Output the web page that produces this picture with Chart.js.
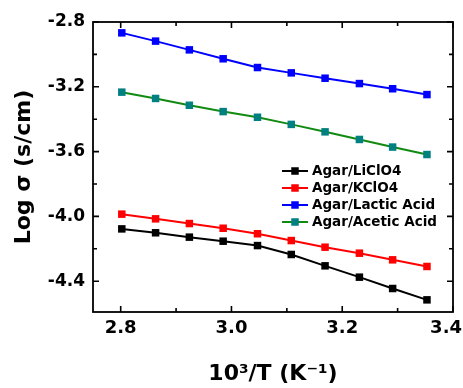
<!DOCTYPE html>
<html>
<head>
<meta charset="utf-8">
<script src="https://cdn.jsdelivr.net/npm/chart.js@4/dist/chart.umd.min.js"></script>
<style>
html,body{margin:0;padding:0;background:#fff;}
#wrap{width:463px;height:388px;position:relative;}
</style>
</head>
<body>
<div id="wrap"><canvas id="c" width="463" height="388"></canvas></div>
<script>
const xValues = [2.802, 2.863, 2.924, 2.985, 3.047, 3.108, 3.169, 3.231, 3.291, 3.353];
const seriesNames = ["Agar/LiClO4", "Agar/KClO4", "Agar/Lactic Acid", "Agar/Acetic Acid"];
const liClO4 = [-4.077, -4.101, -4.128, -4.153, -4.180, -4.235, -4.305, -4.375, -4.445, -4.515];
const kClO4 = [-3.986, -4.015, -4.044, -4.073, -4.107, -4.149, -4.190, -4.227, -4.268, -4.309];
const lacticAcid = [-2.867, -2.918, -2.972, -3.027, -3.081, -3.114, -3.147, -3.180, -3.212, -3.248];
const aceticAcid = [-3.233, -3.272, -3.314, -3.353, -3.388, -3.432, -3.478, -3.525, -3.572, -3.618];
const xTicks = [2.8, 3.0, 3.2, 3.4];
const xMinorTicks = [2.9, 3.1, 3.3];
const yTicks = [-2.8, -3.2, -3.6, -4.0, -4.4];
const yMinorTicks = [-3.0, -3.4, -3.8, -4.2];

const lineColors = ["#000000", "#ff0000", "#0000ff", "#118a11"];
const markerColors = ["#000000", "#ff0000", "#0000ff", "#008080"];
const allSeries = [liClO4, kClO4, lacticAcid, aceticAcid];
const FONT = "'DejaVu Sans', 'Liberation Sans', Arial, sans-serif";

const datasets = allSeries.map((s, i) => ({
  label: seriesNames[i],
  data: s.map((v, j) => ({x: xValues[j], y: v})),
  borderColor: lineColors[i],
  backgroundColor: markerColors[i],
  pointBackgroundColor: markerColors[i],
  pointBorderColor: markerColors[i],
  pointBorderWidth: 0,
  pointStyle: 'rect',
  pointRadius: 5.3,
  borderWidth: 2,
  tension: 0
}));

const framePlugin = {
  id: 'frame',
  afterDatasetsDraw(chart) {
    const {ctx, chartArea: a, scales: {x, y}} = chart;
    ctx.save();
    ctx.strokeStyle = '#000';
    ctx.lineWidth = 1.6;
    ctx.beginPath();
    const tick = (px, py, dx, dy) => { ctx.moveTo(px, py); ctx.lineTo(px + dx, py + dy); };
    xTicks.forEach(v => { const p = x.getPixelForValue(v); tick(p, a.bottom, 0, -6); tick(p, a.top, 0, 6); });
    xMinorTicks.forEach(v => { const p = x.getPixelForValue(v); tick(p, a.bottom, 0, -4); tick(p, a.top, 0, 4); });
    yTicks.forEach(v => { const p = y.getPixelForValue(v); tick(a.left, p, 6, 0); tick(a.right, p, -6, 0); });
    yMinorTicks.forEach(v => { const p = y.getPixelForValue(v); tick(a.left, p, 4, 0); tick(a.right, p, -4, 0); });
    ctx.stroke();
    ctx.lineWidth = 1.8;
    ctx.strokeRect(a.left, a.top, a.right - a.left, a.bottom - a.top);
    // x tick labels (kept inside the canvas)
    ctx.fillStyle = '#000';
    ctx.font = "bold 18px " + FONT;
    ctx.textBaseline = 'middle';
    ctx.textAlign = 'center';
    xTicks.forEach(v => {
      const label = v.toFixed(1);
      const w = ctx.measureText(label).width;
      let p = x.getPixelForValue(v);
      const maxRight = chart.width - 1;
      if (p + w / 2 > maxRight) p = maxRight - w / 2;
      ctx.fillText(label, p, a.bottom + 16);
    });
    // legend
    const lx0 = 282, lx1 = 308, tx = 312;
    const rows = [171, 188, 205, 222];
    ctx.font = "bold 13.5px " + FONT;
    ctx.textAlign = 'left';
    seriesNames.forEach((name, i) => {
      const ry = rows[i];
      ctx.strokeStyle = lineColors[i];
      ctx.lineWidth = 2;
      ctx.beginPath(); ctx.moveTo(lx0, ry); ctx.lineTo(lx1, ry); ctx.stroke();
      ctx.fillStyle = markerColors[i];
      ctx.fillRect((lx0 + lx1) / 2 - 3.75, ry - 3.75, 7.5, 7.5);
      ctx.fillStyle = '#000';
      ctx.fillText(name, tx, ry + 0.5);
    });
    ctx.restore();
  }
};

new Chart(document.getElementById('c'), {
  type: 'line',
  data: {datasets},
  options: {
    responsive: false,
    animation: false,
    layout: {padding: {top: 22, right: 10, left: 0, bottom: 0}},
    plugins: {legend: {display: false}, tooltip: {enabled: false}},
    scales: {
      x: {
        type: 'linear',
        min: 2.75, max: 3.4,
        afterBuildTicks: s => { s.ticks = xTicks.map(v => ({value: v})); },
        afterFit: s => { s.height = 76; s.paddingLeft = 0; s.paddingRight = 0; },
        grid: {display: false, drawTicks: false},
        border: {display: false},
        ticks: {display: false},
        title: {
          display: true,
          text: '10³/T (K⁻¹)',
          color: '#000',
          font: {family: FONT, size: 22, weight: 'bold'},
          padding: {top: 0, bottom: 1}
        }
      },
      y: {
        type: 'linear',
        min: -4.59, max: -2.8,
        afterBuildTicks: s => { s.ticks = yTicks.map(v => ({value: v})); },
        afterFit: s => { s.width = 93; s.paddingTop = 0; s.paddingBottom = 0; },
        grid: {display: false, drawTicks: false},
        border: {display: false},
        ticks: {
          padding: 8,
          color: '#000',
          font: {family: FONT, size: 17, weight: 'bold'},
          callback: v => Number(v).toFixed(1)
        },
        title: {
          display: true,
          text: 'Log σ (s/cm)',
          color: '#000',
          font: {family: FONT, size: 22, weight: 'bold'},
          padding: {top: 11, bottom: 0}
        }
      }
    }
  },
  plugins: [framePlugin]
});
</script>
</body>
</html>
